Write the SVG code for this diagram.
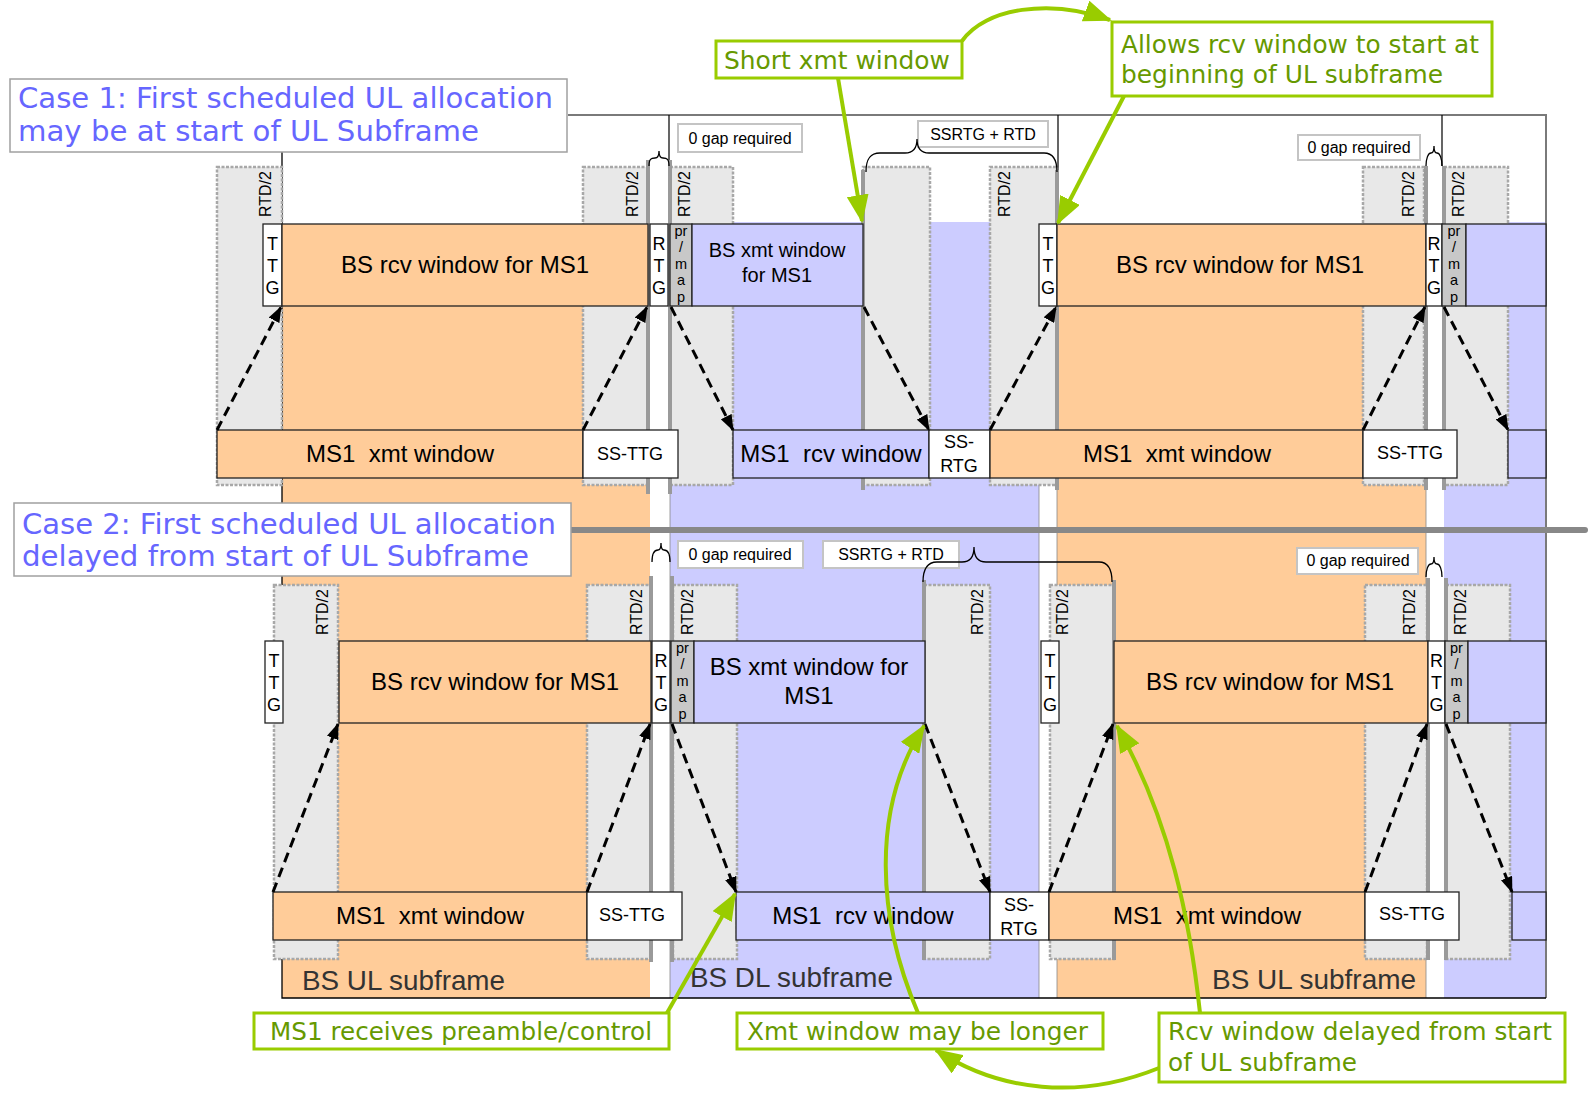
<svg xmlns="http://www.w3.org/2000/svg" width="1591" height="1094" viewBox="0 0 1591 1094">
<defs>
<style>
.peach{fill:#FFCC99}
.lav{fill:#CCCCFF}
.gbox{fill:#E8E8E8;stroke:#A8A8A8;stroke-width:2.5;stroke-dasharray:3 1.5}
.thick{stroke:#9A9A9A;stroke-width:4;fill:none}
.wp{fill:#FFCC99;stroke:#222;stroke-width:1.3}
.wl{fill:#CCCCFF;stroke:#222;stroke-width:1.3}
.ww{fill:#fff;stroke:#222;stroke-width:1.3}
.pm{fill:#C8C8C8;stroke:#222;stroke-width:1.3}
.t{font-family:'Liberation Sans',Arial,sans-serif;fill:#000}
.c{text-anchor:middle}
.s24{font-size:24px}
.s20{font-size:20px}
.s18{font-size:18px}
.s16{font-size:16px}
.s14{font-size:14.5px}
.lbl{fill:#fff;stroke:#C4C4C4;stroke-width:2}
.brace{fill:none;stroke:#000;stroke-width:1.3}
.dash{fill:none;stroke:#000;stroke-width:3;stroke-dasharray:10 6;marker-end:url(#ah)}
.case{fill:#fff;stroke:#A0A0A0;stroke-width:1.5}
.ct{font-family:'DejaVu Sans',Verdana,sans-serif;font-size:29px;fill:#6666FF}
.gb{fill:#fff;stroke:#99CC00;stroke-width:3}
.gt{font-family:'DejaVu Sans',Verdana,sans-serif;font-size:25px;fill:#669900}
.ga{fill:none;stroke:#99CC00;stroke-width:4;marker-end:url(#gh)}
.sub{font-family:'Liberation Sans',Arial,sans-serif;font-size:28px;fill:#333}
</style>
<marker id="ah" markerUnits="userSpaceOnUse" markerWidth="16" markerHeight="12" refX="15" refY="6" orient="auto"><path d="M0,0 L16,6 L0,12 z" fill="#000"/></marker>
<marker id="gh" markerUnits="userSpaceOnUse" markerWidth="28" markerHeight="22" refX="26" refY="11" orient="auto"><path d="M0,0 L28,11 L0,22 z" fill="#99CC00"/></marker>
</defs>
<rect x="0" y="0" width="1591" height="1094" fill="#fff"/>

<g id="subframes">
<rect class="peach" x="282" y="224" width="368" height="774"/>
<rect class="lav" x="670" y="222" width="369" height="776"/>
<rect class="peach" x="1057" y="224" width="369" height="774"/>
<rect class="lav" x="1444" y="222" width="102" height="776"/>
<path d="M670,222 V998 M1039,222 V998 M1057,224 V998 M1426,224 V998" stroke="#888" stroke-width="0.8" fill="none"/>
</g>

<g id="frame" fill="none">
<path d="M568,115 H1546 V998" stroke="#7A7A7A" stroke-width="2"/>
<path d="M282,152 V998 H1546" stroke="#000" stroke-width="1.3"/>
<path d="M669,115 V166 M1058,115 V172 M1442,115 V166" stroke="#000" stroke-width="1.2"/>
</g>

<g id="rtd-top">
<rect class="gbox" x="217" y="167" width="65" height="318"/>
<rect class="gbox" x="583" y="167" width="65" height="318"/>
<rect class="gbox" x="670" y="167" width="63" height="318"/>
<rect class="gbox" x="863" y="167" width="67" height="318"/>
<rect class="gbox" x="990" y="167" width="67" height="318"/>
<rect class="gbox" x="1363" y="167" width="61" height="318"/>
<rect class="gbox" x="1444" y="167" width="64" height="318"/>
<text class="t s16" transform="translate(271,217) rotate(-90)">RTD/2</text>
<text class="t s16" transform="translate(638,217) rotate(-90)">RTD/2</text>
<text class="t s16" transform="translate(690,217) rotate(-90)">RTD/2</text>
<text class="t s16" transform="translate(1010,217) rotate(-90)">RTD/2</text>
<text class="t s16" transform="translate(1414,217) rotate(-90)">RTD/2</text>
<text class="t s16" transform="translate(1464,217) rotate(-90)">RTD/2</text>
</g>

<g id="rtd-bottom">
<rect class="gbox" x="274" y="585" width="64" height="374"/>
<rect class="gbox" x="587" y="585" width="64" height="374"/>
<rect class="gbox" x="673" y="585" width="64" height="374"/>
<rect class="gbox" x="924" y="585" width="66" height="374"/>
<rect class="gbox" x="1050" y="585" width="64" height="374"/>
<rect class="gbox" x="1365" y="585" width="62" height="374"/>
<rect class="gbox" x="1446" y="585" width="64" height="374"/>
<text class="t s16" transform="translate(328,635) rotate(-90)">RTD/2</text>
<text class="t s16" transform="translate(642,635) rotate(-90)">RTD/2</text>
<text class="t s16" transform="translate(693,635) rotate(-90)">RTD/2</text>
<text class="t s16" transform="translate(983,635) rotate(-90)">RTD/2</text>
<text class="t s16" transform="translate(1068,635) rotate(-90)">RTD/2</text>
<text class="t s16" transform="translate(1415,635) rotate(-90)">RTD/2</text>
<text class="t s16" transform="translate(1466,635) rotate(-90)">RTD/2</text>
</g>

<g id="guard-lines">
<path class="thick" d="M648,160 V494 M670,160 V494 M863,170 V490 M1057,170 V490 M1426,166 V490 M1444,166 V490"/>
<path class="thick" d="M651,576 V962 M672,576 V962 M924,580 V960 M1114,580 V960 M1428,578 V960 M1446,578 V960"/>
</g>

<g id="bs-top">
<g id="ttg-t1"><rect class="ww" x="263" y="224" width="19" height="82"/><text class="t s18 c" x="272.5" y="250">T</text><text class="t s18 c" x="272.5" y="272">T</text><text class="t s18 c" x="272.5" y="294">G</text></g>
<g id="bsrcv-t1"><rect class="wp" x="282" y="224" width="366" height="82"/><text class="t s24 c" x="465" y="273">BS rcv window for MS1</text></g>
<g id="rtg-t1"><rect class="ww" x="650" y="224" width="18" height="82"/><text class="t s18 c" x="659" y="250">R</text><text class="t s18 c" x="659" y="272">T</text><text class="t s18 c" x="659" y="294">G</text></g>
<g id="prmap-t1"><rect class="pm" x="670" y="224" width="22" height="82"/><text class="t s14 c" x="681" y="236">pr</text><text class="t s14 c" x="681" y="252.4">/</text><text class="t s14 c" x="681" y="268.8">m</text><text class="t s14 c" x="681" y="285.2">a</text><text class="t s14 c" x="681" y="301.6">p</text></g>
<g id="bsxmt-t1"><rect class="wl" x="692" y="224" width="171" height="82"/><text class="t s20 c" x="777" y="257">BS xmt window</text><text class="t s20 c" x="777" y="282">for MS1</text></g>
<g id="ttg-t2"><rect class="ww" x="1039" y="224" width="18" height="82"/><text class="t s18 c" x="1048" y="250">T</text><text class="t s18 c" x="1048" y="272">T</text><text class="t s18 c" x="1048" y="294">G</text></g>
<g id="bsrcv-t2"><rect class="wp" x="1057" y="224" width="369" height="82"/><text class="t s24 c" x="1240" y="273">BS rcv window for MS1</text></g>
<g id="rtg-t2"><rect class="ww" x="1426" y="224" width="16" height="82"/><text class="t s18 c" x="1434" y="250">R</text><text class="t s18 c" x="1434" y="272">T</text><text class="t s18 c" x="1434" y="294">G</text></g>
<g id="prmap-t2"><rect class="pm" x="1442" y="224" width="24" height="82"/><text class="t s14 c" x="1454" y="236">pr</text><text class="t s14 c" x="1454" y="252.4">/</text><text class="t s14 c" x="1454" y="268.8">m</text><text class="t s14 c" x="1454" y="285.2">a</text><text class="t s14 c" x="1454" y="301.6">p</text></g>
<g id="bsxmt-t2"><rect class="wl" x="1466" y="224" width="80" height="82"/></g>
</g>

<g id="ms-top">
<g id="msxmt-t1"><rect class="wp" x="217" y="430" width="366" height="48"/><text class="t s24 c" x="400" y="462" xml:space="preserve">MS1  xmt window</text></g>
<g id="ssttg-t1"><rect class="ww" x="583" y="430" width="95" height="48"/><text class="t s18 c" x="630" y="460">SS-TTG</text></g>
<g id="msrcv-t1"><rect class="wl" x="733" y="430" width="196" height="48"/><text class="t s24 c" x="831" y="462" xml:space="preserve">MS1  rcv window</text></g>
<g id="ssrtg-t1"><rect class="ww" x="929" y="430" width="61" height="48"/><text class="t s18 c" x="959" y="448">SS-</text><text class="t s18 c" x="959" y="472">RTG</text></g>
<g id="msxmt-t2"><rect class="wp" x="990" y="430" width="373" height="48"/><text class="t s24 c" x="1177" y="462" xml:space="preserve">MS1  xmt window</text></g>
<g id="ssttg-t2"><rect class="ww" x="1363" y="430" width="94" height="48"/><text class="t s18 c" x="1410" y="459">SS-TTG</text></g>
<g id="msrcv-t2"><rect class="wl" x="1508" y="430" width="38" height="48"/></g>
</g>

<g id="bs-bottom">
<g id="ttg-b1"><rect class="ww" x="265" y="641" width="18" height="82"/><text class="t s18 c" x="274" y="667">T</text><text class="t s18 c" x="274" y="689">T</text><text class="t s18 c" x="274" y="711">G</text></g>
<g id="bsrcv-b1"><rect class="wp" x="339" y="641" width="312" height="82"/><text class="t s24 c" x="495" y="690">BS rcv window for MS1</text></g>
<g id="rtg-b1"><rect class="ww" x="652" y="641" width="18" height="82"/><text class="t s18 c" x="661" y="667">R</text><text class="t s18 c" x="661" y="689">T</text><text class="t s18 c" x="661" y="711">G</text></g>
<g id="prmap-b1"><rect class="pm" x="671" y="641" width="23" height="82"/><text class="t s14 c" x="682.5" y="653">pr</text><text class="t s14 c" x="682.5" y="669.4">/</text><text class="t s14 c" x="682.5" y="685.8">m</text><text class="t s14 c" x="682.5" y="702.2">a</text><text class="t s14 c" x="682.5" y="718.6">p</text></g>
<g id="bsxmt-b1"><rect class="wl" x="694" y="641" width="231" height="82"/><text class="t s24 c" x="809" y="675">BS xmt window for</text><text class="t s24 c" x="809" y="704">MS1</text></g>
<g id="ttg-b2"><rect class="ww" x="1041" y="641" width="18" height="82"/><text class="t s18 c" x="1050" y="667">T</text><text class="t s18 c" x="1050" y="689">T</text><text class="t s18 c" x="1050" y="711">G</text></g>
<g id="bsrcv-b2"><rect class="wp" x="1114" y="641" width="314" height="82"/><text class="t s24 c" x="1270" y="690">BS rcv window for MS1</text></g>
<g id="rtg-b2"><rect class="ww" x="1428" y="641" width="17" height="82"/><text class="t s18 c" x="1436.5" y="667">R</text><text class="t s18 c" x="1436.5" y="689">T</text><text class="t s18 c" x="1436.5" y="711">G</text></g>
<g id="prmap-b2"><rect class="pm" x="1445" y="641" width="23" height="82"/><text class="t s14 c" x="1456.5" y="653">pr</text><text class="t s14 c" x="1456.5" y="669.4">/</text><text class="t s14 c" x="1456.5" y="685.8">m</text><text class="t s14 c" x="1456.5" y="702.2">a</text><text class="t s14 c" x="1456.5" y="718.6">p</text></g>
<g id="bsxmt-b2"><rect class="wl" x="1468" y="641" width="78" height="82"/></g>
</g>

<g id="ms-bottom">
<g id="msxmt-b1"><rect class="wp" x="273" y="892" width="314" height="48"/><text class="t s24 c" x="430" y="924" xml:space="preserve">MS1  xmt window</text></g>
<g id="ssttg-b1"><rect class="ww" x="587" y="892" width="95" height="48"/><text class="t s18 c" x="632" y="921">SS-TTG</text></g>
<g id="msrcv-b1"><rect class="wl" x="736" y="892" width="254" height="48"/><text class="t s24 c" x="863" y="924" xml:space="preserve">MS1  rcv window</text></g>
<g id="ssrtg-b1"><rect class="ww" x="990" y="892" width="59" height="48"/><text class="t s18 c" x="1019" y="911">SS-</text><text class="t s18 c" x="1019" y="935">RTG</text></g>
<g id="msxmt-b2"><rect class="wp" x="1049" y="892" width="316" height="48"/><text class="t s24 c" x="1207" y="924" xml:space="preserve">MS1  xmt window</text></g>
<g id="ssttg-b2"><rect class="ww" x="1365" y="892" width="94" height="48"/><text class="t s18 c" x="1412" y="920">SS-TTG</text></g>
<g id="msrcv-b2"><rect class="wl" x="1512" y="892" width="34" height="48"/></g>
</g>

<g id="gap-labels">
<g id="gap-t1"><rect class="lbl" x="678" y="124" width="124" height="28"/><text class="t s16 c" x="740" y="144">0 gap required</text></g>
<g id="ssrtg-lbl-t"><rect class="lbl" x="918" y="121" width="130" height="26"/><text class="t s16 c" x="983" y="140">SSRTG + RTD</text></g>
<g id="gap-t2"><rect class="lbl" x="1298" y="135" width="122" height="25"/><text class="t s16 c" x="1359" y="153">0 gap required</text></g>
<g id="gap-b1"><rect class="lbl" x="678" y="541" width="125" height="27"/><text class="t s16 c" x="740" y="560">0 gap required</text></g>
<g id="ssrtg-lbl-b"><rect class="lbl" x="823" y="541" width="136" height="27"/><text class="t s16 c" x="891" y="560">SSRTG + RTD</text></g>
<g id="gap-b2"><rect class="lbl" x="1297" y="548" width="121" height="26"/><text class="t s16 c" x="1358" y="566">0 gap required</text></g>
</g>

<g id="braces">
<path class="brace" d="M649,166 C649,159 651,158 655,158 C658,158 659,156 659,151 C659,156 660,158 663,158 C667,158 669,159 669,166"/>
<path class="brace" d="M866,172 C866,159 870,153 880,153 L905,153 C913,153 917,148 917,139 C917,148 921,153 929,153 L1044,153 C1053,153 1057,159 1057,172"/>
<path class="brace" d="M1426,166 C1426,159 1428,153 1431,153 C1433,153 1434,151 1434,146 C1434,151 1435,153 1437,153 C1440,153 1442,159 1442,166"/>
<path class="brace" d="M652,562 C652,555 654,550 658,550 C660,550 661,548 661,543 C661,548 662,550 664,550 C668,550 670,555 670,562"/>
<path class="brace" d="M923,582 C923,569 927,562 937,562 L962,562 C970,562 974,557 974,547 C974,557 978,562 986,562 L1099,562 C1108,562 1112,569 1112,582"/>
<path class="brace" d="M1426,577 C1426,570 1428,564 1431,564 C1433,564 1434,562 1434,557 C1434,562 1435,564 1437,564 C1440,564 1442,570 1442,577"/>
</g>

<g id="connectors">
<path class="dash" d="M217,430 L281,307"/>
<path class="dash" d="M583,430 L647,307"/>
<path class="dash" d="M671,307 L733,430"/>
<path class="dash" d="M864,307 L929,430"/>
<path class="dash" d="M990,430 L1056,307"/>
<path class="dash" d="M1363,430 L1425,307"/>
<path class="dash" d="M1444,307 L1508,430"/>
<path class="dash" d="M273,892 L338,724"/>
<path class="dash" d="M587,892 L650,724"/>
<path class="dash" d="M672,724 L736,892"/>
<path class="dash" d="M925,724 L990,892"/>
<path class="dash" d="M1049,892 L1113,724"/>
<path class="dash" d="M1365,892 L1427,724"/>
<path class="dash" d="M1446,724 L1512,892"/>
</g>

<g id="subframe-labels">
<text class="sub" x="302" y="990" textLength="203" lengthAdjust="spacingAndGlyphs">BS UL subframe</text>
<text class="sub" x="690" y="987" textLength="203" lengthAdjust="spacingAndGlyphs">BS DL subframe</text>
<text class="sub" x="1212" y="989" textLength="204" lengthAdjust="spacingAndGlyphs">BS UL subframe</text>
</g>

<g id="separator"><path d="M571,530 L1585,530" stroke="#888" stroke-width="6" stroke-linecap="round"/></g>

<g id="case1"><rect class="case" x="10" y="79" width="557" height="73"/>
<text class="ct" x="18" y="108" textLength="535" lengthAdjust="spacingAndGlyphs">Case 1: First scheduled UL allocation</text>
<text class="ct" x="18" y="141" textLength="461" lengthAdjust="spacingAndGlyphs">may be at start of UL Subframe</text></g>
<g id="case2"><rect class="case" x="14" y="503" width="557" height="73"/>
<text class="ct" x="22" y="534" textLength="534" lengthAdjust="spacingAndGlyphs">Case 2: First scheduled UL allocation</text>
<text class="ct" x="22" y="566" textLength="507" lengthAdjust="spacingAndGlyphs">delayed from start of UL Subframe</text></g>

<g id="notes">
<g id="note-short"><rect class="gb" x="716" y="41" width="246" height="37"/><text class="gt" x="724" y="69" textLength="226" lengthAdjust="spacingAndGlyphs">Short xmt window</text></g>
<g id="note-allows"><rect class="gb" x="1112" y="22" width="380" height="74"/><text class="gt" x="1121" y="53" textLength="358" lengthAdjust="spacingAndGlyphs">Allows rcv window to start at</text><text class="gt" x="1121" y="83" textLength="322" lengthAdjust="spacingAndGlyphs">beginning of UL subframe</text></g>
<g id="note-preamble"><rect class="gb" x="254" y="1013" width="415" height="36"/><text class="gt" x="270" y="1040" textLength="382" lengthAdjust="spacingAndGlyphs">MS1 receives preamble/control</text></g>
<g id="note-longer"><rect class="gb" x="737" y="1013" width="366" height="36"/><text class="gt" x="747" y="1040" textLength="341" lengthAdjust="spacingAndGlyphs">Xmt window may be longer</text></g>
<g id="note-delayed"><rect class="gb" x="1159" y="1013" width="406" height="69"/><text class="gt" x="1168" y="1040" textLength="384" lengthAdjust="spacingAndGlyphs">Rcv window delayed from start</text><text class="gt" x="1168" y="1071" textLength="189" lengthAdjust="spacingAndGlyphs">of UL subframe</text></g>
</g>

<g id="note-connectors">
<path class="ga" d="M838,78 L862,221"/>
<path class="ga" d="M962,41 C985,8 1050,-2 1110,20"/>
<path class="ga" d="M1124,96 L1058,223"/>
<path class="ga" d="M667,1013 L735,894"/>
<path class="ga" d="M918,1013 C878,920 870,810 924,726"/>
<path class="ga" d="M1200,1013 C1190,920 1170,820 1117,726"/>
<path class="ga" d="M1159,1068 C1080,1100 1000,1092 936,1050"/>
</g>
</svg>
